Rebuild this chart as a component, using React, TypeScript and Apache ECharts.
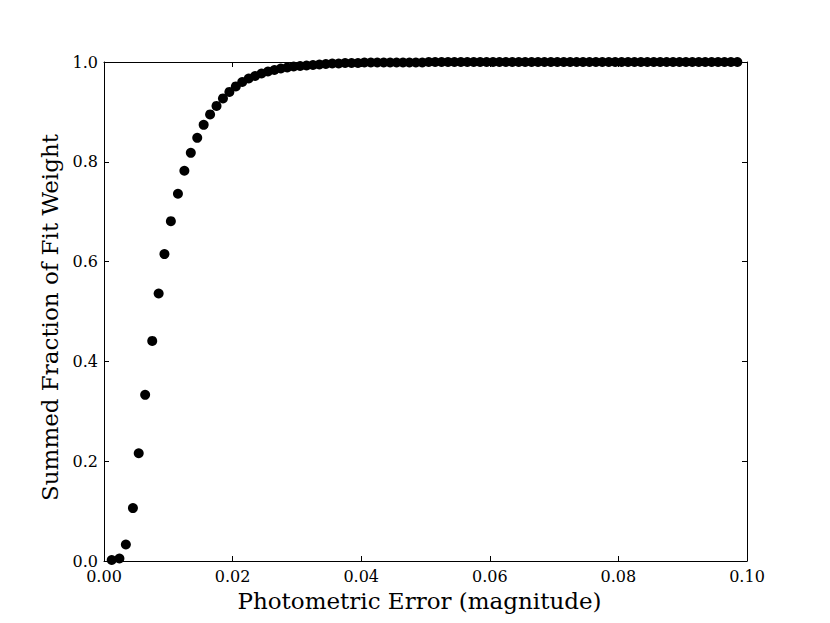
import React, { useEffect, useRef } from "react";
import * as echarts from "echarts";

const xValues: number[] = [
  0.0012, 0.0024, 0.0034, 0.0045, 0.0054, 0.0064, 0.0075, 0.0085, 0.0094, 0.0104,
  0.0115, 0.0125, 0.0135, 0.0145, 0.0155, 0.0165, 0.0175, 0.0185, 0.0195, 0.0205,
  0.0215, 0.0225, 0.0235, 0.0245, 0.0255, 0.0265, 0.0275, 0.0285, 0.0295, 0.0305,
  0.0315, 0.0325, 0.0335, 0.0345, 0.0355, 0.0365, 0.0375, 0.0385, 0.0395, 0.0405,
  0.0415, 0.0425, 0.0435, 0.0445, 0.0455, 0.0465, 0.0475, 0.0485, 0.0495, 0.0505,
  0.0515, 0.0525, 0.0535, 0.0545, 0.0555, 0.0565, 0.0575, 0.0585, 0.0595, 0.0605,
  0.0615, 0.0625, 0.0635, 0.0645, 0.0655, 0.0665, 0.0675, 0.0685, 0.0695, 0.0705,
  0.0715, 0.0725, 0.0735, 0.0745, 0.0755, 0.0765, 0.0775, 0.0785, 0.0795, 0.0805,
  0.0815, 0.0825, 0.0835, 0.0845, 0.0855, 0.0865, 0.0875, 0.0885, 0.0895, 0.0905,
  0.0915, 0.0925, 0.0935, 0.0945, 0.0955, 0.0965, 0.0975, 0.0985,
];

const fractionValues: number[] = [
  0.002, 0.005, 0.033, 0.106, 0.216, 0.333, 0.441, 0.536, 0.615, 0.681,
  0.736, 0.782, 0.818, 0.848, 0.874, 0.895, 0.912, 0.927, 0.94, 0.951,
  0.96, 0.967, 0.972, 0.977, 0.981, 0.984, 0.987, 0.989, 0.991, 0.992,
  0.993, 0.994, 0.995, 0.996, 0.997, 0.997, 0.998, 0.998, 0.998, 0.999,
  0.999, 0.999, 0.999, 0.999, 0.999, 0.999, 0.999, 0.999, 0.999, 1.0,
  1.0, 1.0, 1.0, 1.0, 1.0, 1.0, 1.0, 1.0, 1.0, 1.0,
  1.0, 1.0, 1.0, 1.0, 1.0, 1.0, 1.0, 1.0, 1.0, 1.0,
  1.0, 1.0, 1.0, 1.0, 1.0, 1.0, 1.0, 1.0, 1.0, 1.0,
  1.0, 1.0, 1.0, 1.0, 1.0, 1.0, 1.0, 1.0, 1.0, 1.0,
  1.0, 1.0, 1.0, 1.0, 1.0, 1.0, 1.0, 1.0,
];

const xTickLabels: string[] = ["0.00", "0.02", "0.04", "0.06", "0.08", "0.10"];
const yTickLabels: string[] = ["0.0", "0.2", "0.4", "0.6", "0.8", "1.0"];

const FONT = "'DejaVu Serif', serif";

export default function App() {
  const ref = useRef<HTMLDivElement>(null);

  useEffect(() => {
    document.body.style.margin = "0";
    if (!ref.current) return;
    const chart = echarts.init(ref.current, null, { renderer: "svg" });
    const points = xValues.map((x, i) => [x, fractionValues[i]]);
    const axisLine = { show: true, onZero: false, lineStyle: { color: "#000", width: 1 } };
    const axisTick = { show: true, inside: true, length: 5, lineStyle: { color: "#000", width: 1 } };
    chart.setOption({
      animation: false,
      backgroundColor: "#fff",
      grid: { left: 104, right: 83, top: 62, bottom: 62, containLabel: false },
      xAxis: [
        {
          type: "value",
          min: 0,
          max: 0.1,
          interval: 0.02,
          position: "bottom",
          name: "Photometric Error (magnitude)",
          nameLocation: "middle",
          nameGap: 28,
          nameTextStyle: { fontFamily: FONT, fontSize: 23, color: "#000", padding: [0, 12, 0, 0] },
          axisLine,
          axisTick,
          splitLine: { show: false },
          axisLabel: {
            fontFamily: FONT,
            fontSize: 16,
            color: "#000",
            margin: 7,
            formatter: (v: number) => xTickLabels[Math.round(v / 0.02)] ?? "",
          },
        },
        {
          type: "value",
          min: 0,
          max: 0.1,
          interval: 0.02,
          position: "top",
          axisLine,
          axisTick,
          splitLine: { show: false },
          axisLabel: { show: false },
        },
      ],
      yAxis: [
        {
          type: "value",
          min: 0,
          max: 1,
          interval: 0.2,
          position: "left",
          name: "Summed Fraction of Fit Weight",
          nameLocation: "middle",
          nameGap: 42,
          nameTextStyle: { fontFamily: FONT, fontSize: 23, color: "#000", padding: [0, 12, 0, 0] },
          axisLine,
          axisTick,
          splitLine: { show: false },
          axisLabel: {
            fontFamily: FONT,
            fontSize: 16,
            color: "#000",
            margin: 6,
            formatter: (v: number) => yTickLabels[Math.round(v / 0.2)] ?? "",
          },
        },
        {
          type: "value",
          min: 0,
          max: 1,
          interval: 0.2,
          position: "right",
          axisLine,
          axisTick,
          splitLine: { show: false },
          axisLabel: { show: false },
        },
      ],
      series: [
        {
          type: "scatter",
          data: points,
          symbol: "circle",
          symbolSize: 10,
          itemStyle: { color: "#000", opacity: 1 },
          clip: false,
        },
      ],
    });
    return () => chart.dispose();
  }, []);

  return <div ref={ref} style={{ width: 830, height: 623 }} />;
}
